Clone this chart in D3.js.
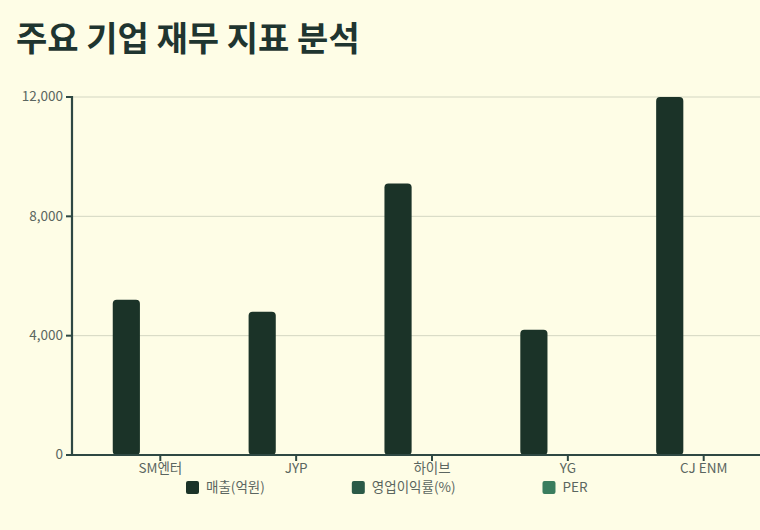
<!DOCTYPE html>
<html>
<head>
<meta charset="utf-8">
<script src="https://cdn.jsdelivr.net/npm/d3@7"></script>
<style>
  html, body { margin: 0; padding: 0; background: #fefde6; }
  svg { display: block; font-family: "Noto Sans CJK KR", "Noto Sans", sans-serif; }
</style>
</head>
<body>
<div id="chart"></div>
<script>
// 기업별 재무 지표
const companies = ["SM엔터", "JYP", "하이브", "YG", "CJ ENM"];
const seriesKeys = ["매출(억원)", "영업이익률(%)", "PER"];
const revenue = [5200, 4800, 9100, 4200, 12000];
const opMargin = [14, 11, 17, 9, 6];
const per = [28, 25, 30, 22, 15];
const yTicks = [0, 4000, 8000, 12000];

const width = 760;
const height = 530;
const margin = { top: 97, left: 72, bottom: 75 };
const plotRight = 792; // 차트 영역이 화면 밖까지 이어짐

const rows = companies.map((c, i) => ({
  company: c,
  values: [revenue[i], opMargin[i], per[i]]
}));

const svg = d3.select("#chart").append("svg")
  .attr("width", width)
  .attr("height", height);

svg.append("rect").attr("width", width).attr("height", height).attr("fill", "#fefde6");

svg.append("text")
  .attr("x", 16)
  .attr("y", 51)
  .attr("fill", "#1f3530")
  .style("font-size", "34px")
  .style("font-weight", "bold")
  .text("주요 기업 재무 지표 분석");

const x0 = d3.scaleBand()
  .domain(companies)
  .range([margin.left, plotRight])
  .padding(0.3);

const x1 = d3.scaleBand()
  .domain(seriesKeys)
  .range([0, x0.bandwidth()])
  .paddingInner(0.2);

const y = d3.scaleLinear()
  .domain([0, 12000])
  .range([height - margin.bottom, margin.top]);

const color = d3.scaleOrdinal()
  .domain(seriesKeys)
  .range(["#1b3328", "#2b5a47", "#3a7d5e"]);

// 격자선
svg.append("g")
  .selectAll("line")
  .data(yTicks.filter(d => d > 0))
  .join("line")
  .attr("x1", margin.left)
  .attr("x2", width)
  .attr("y1", d => y(d))
  .attr("y2", d => y(d))
  .attr("stroke", "#d3d6c2")
  .attr("stroke-width", 1);

// 막대
svg.append("g")
  .selectAll("g")
  .data(rows)
  .join("g")
  .attr("transform", d => `translate(${x0(d.company)},0)`)
  .selectAll("rect")
  .data(d => d.values.map((v, i) => ({ key: seriesKeys[i], value: v })))
  .join("rect")
  .attr("x", d => x1(d.key))
  .attr("y", d => y(d.value))
  .attr("width", x1.bandwidth())
  .attr("height", d => y(0) - y(d.value))
  .attr("rx", 4)
  .attr("fill", d => color(d.key));

// 축
const xAxis = svg.append("g")
  .attr("transform", `translate(0,${y(0)})`)
  .call(d3.axisBottom(x0).tickSize(6).tickSizeOuter(0).offset(0));

const yAxis = svg.append("g")
  .attr("transform", `translate(${margin.left},0)`)
  .call(d3.axisLeft(y).tickValues(yTicks).tickFormat(d3.format(",")).tickSize(6).offset(0));

[xAxis, yAxis].forEach(g => {
  g.select(".domain").attr("stroke", "#2e4843").attr("stroke-width", 2.2);
  g.selectAll(".tick line").attr("stroke", "#2e4843").attr("stroke-width", 2);
  g.selectAll(".tick text")
    .attr("fill", "#5b6660")
    .style("font-size", "13.5px")
    .style("font-family", "'Noto Sans CJK KR', 'Noto Sans', sans-serif");
});
xAxis.selectAll(".tick text").attr("dy", "0.7em");

// 범례
const legend = svg.append("g").attr("transform", "translate(186,481)");
let lx = 0;
seriesKeys.forEach(k => {
  const item = legend.append("g").attr("transform", `translate(${lx},0)`);
  item.append("rect")
    .attr("width", 13).attr("height", 13).attr("rx", 2)
    .attr("fill", color(k));
  const t = item.append("text")
    .attr("x", 20).attr("y", 10.5)
    .attr("fill", "#5b6660")
    .style("font-size", "13.5px")
    .text(k);
  lx += 20 + t.node().getComputedTextLength() + 87;
});
</script>
</body>
</html>
